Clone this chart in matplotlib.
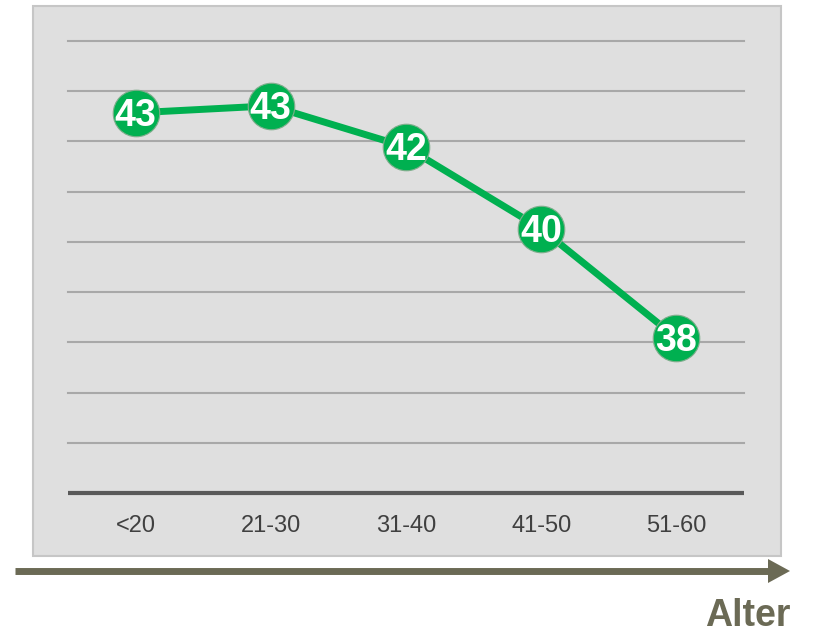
import matplotlib
matplotlib.use("Agg")
import matplotlib.pyplot as plt
from matplotlib.patches import Rectangle, Polygon
from matplotlib.lines import Line2D

categories = ["<20", "21-30", "31-40", "41-50", "51-60"]
values = [42.57, 42.71, 41.89, 40.26, 38.09]
labels = ["43", "43", "42", "40", "38"]
y_min, y_max = 35, 44

plt.rcParams['font.family'] = ['Liberation Sans', 'DejaVu Sans']

W, H = 813, 633
fig = plt.figure(figsize=(W / 100, H / 100), dpi=100)
fig.patch.set_facecolor('white')

def px(x, y):
    return x / 100, (H - y) / 100

# background panel
x0, y0 = px(33, 556)
x1, y1 = px(781, 6)
fig.add_artist(Rectangle((x0, y0), x1 - x0, y1 - y0, transform=fig.dpi_scale_trans,
                         facecolor='#dfdfdf', edgecolor='#c6c6c6', linewidth=1.5, zorder=0))

ax = fig.add_axes([68 / W, (H - 493) / H, 676 / W, 452 / H])
ax.set_facecolor('none')
ax.set_xlim(-0.5, len(categories) - 0.5)
ax.set_ylim(y_min, y_max)
for yv in range(y_min + 1, y_max + 1):
    ax.axhline(yv, color='#a8a8a8', linewidth=1.5, zorder=1, clip_on=False)
for s in ['top', 'right', 'left']:
    ax.spines[s].set_visible(False)
ax.spines['bottom'].set_color('#595959')
ax.spines['bottom'].set_linewidth(3)
ax.spines['bottom'].set_capstyle('butt')
ax.set_yticks([])
ax.set_xticks(range(len(categories)))
ax.set_xticklabels(categories, fontsize=17, color='#404040')
ax.tick_params(axis='x', length=0, pad=16)

xs = list(range(len(categories)))
ax.plot(xs, values, color='#00b050', linewidth=5, zorder=3, solid_capstyle='round')
ax.plot(xs, values, 'o', markersize=33.5, markerfacecolor='#00b050',
        markeredgecolor='#7fae8c', markeredgewidth=0.8, zorder=4, clip_on=False)
fs = 27
for x, v, t in zip(xs, values, labels):
    ax.annotate(t, (x, v), xytext=(0, -0.716 * fs / 2), textcoords='offset points',
                ha='center', va='baseline', fontsize=fs, fontweight='bold',
                color='white', zorder=5)

# arrow
arrow_color = '#6b6a55'
sx0, sy = px(15, 571)
sx1, _ = px(772, 571)
fig.add_artist(Line2D([sx0, sx1], [sy, sy], transform=fig.dpi_scale_trans,
                      color=arrow_color, linewidth=5, solid_capstyle='butt'))
fig.add_artist(Polygon([px(768, 559), px(768, 583), px(790, 571)], closed=True,
                       transform=fig.dpi_scale_trans, facecolor=arrow_color,
                       edgecolor='none'))

tx, ty = px(791, 616)
fig.text(tx / (W / 100), ty / (H / 100), "Alter", ha='right', va='center',
         fontsize=27, fontweight='bold', color=arrow_color)

fig.savefig("out.png", dpi=100)
